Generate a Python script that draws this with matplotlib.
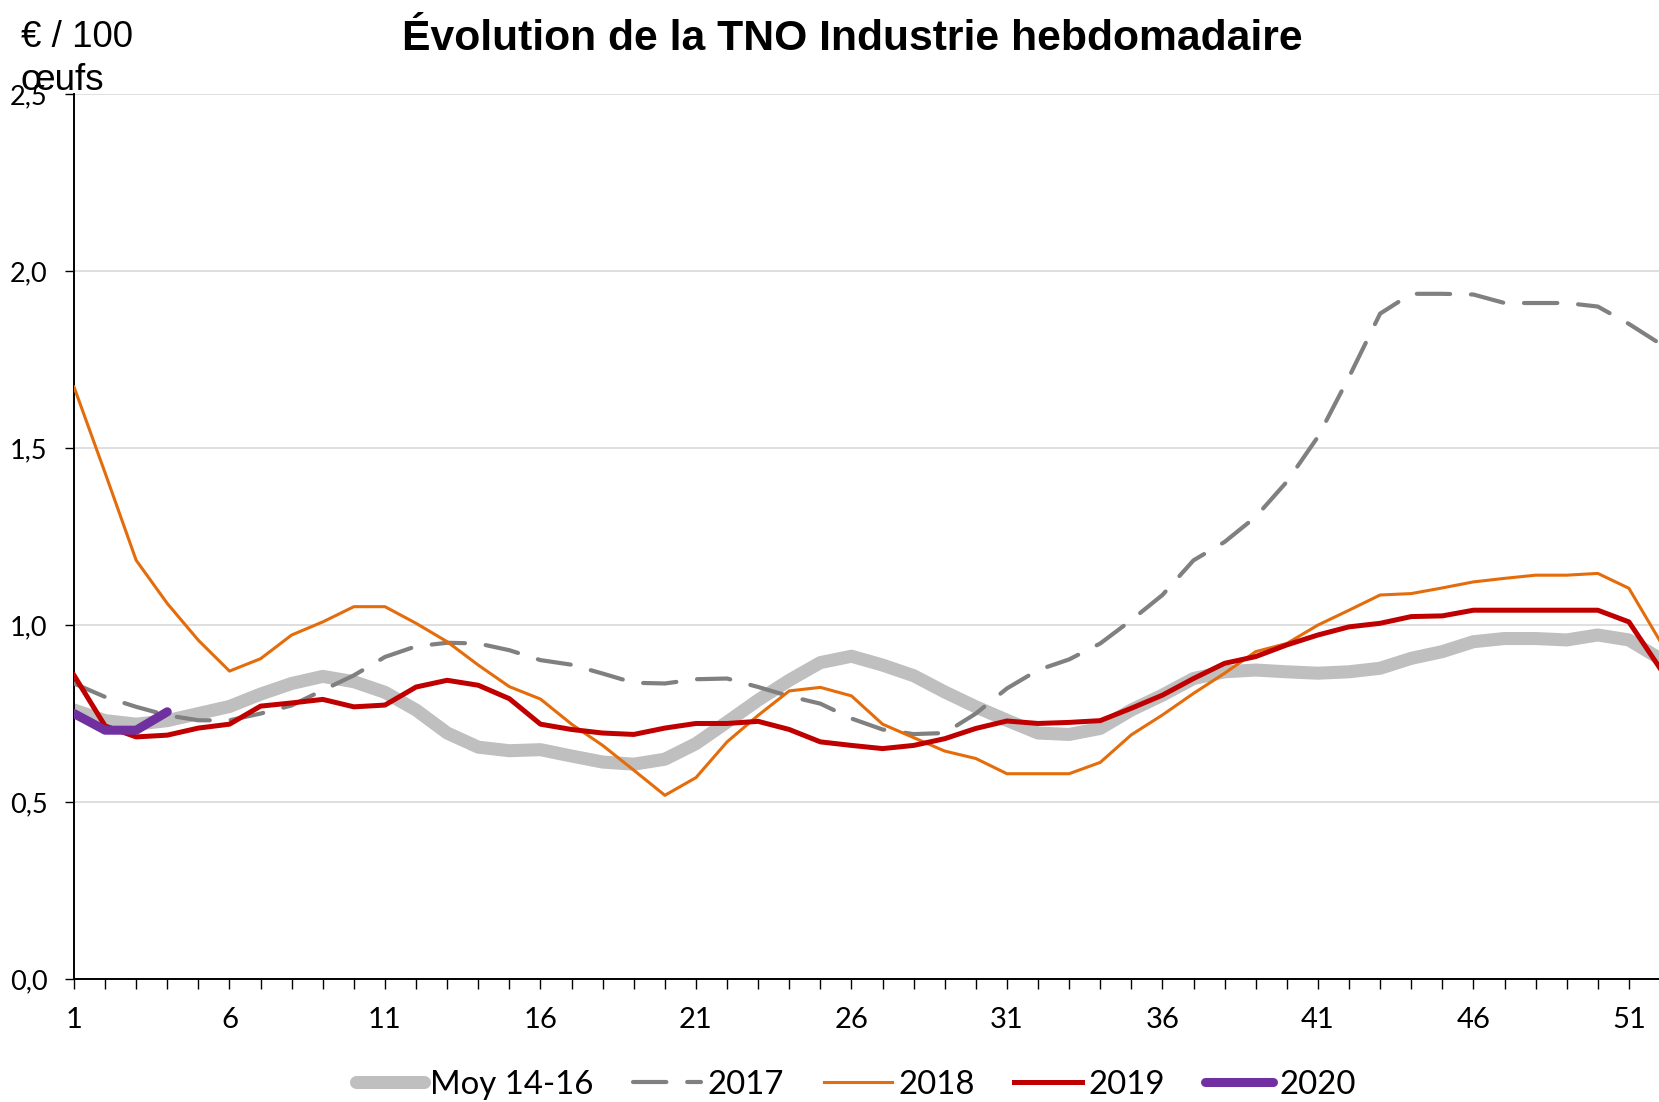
import matplotlib
matplotlib.use("Agg")
import matplotlib.pyplot as plt

weeks = list(range(1, 53))

moy_14_16 = [0.76, 0.73, 0.72, 0.73, 0.75, 0.77, 0.805, 0.835, 0.855, 0.84,
             0.81, 0.76, 0.695, 0.655, 0.645, 0.648, 0.63, 0.613, 0.607, 0.621,
             0.665, 0.726, 0.788, 0.844, 0.894, 0.912, 0.887, 0.857, 0.811, 0.769,
             0.731, 0.695, 0.691, 0.708, 0.76, 0.802, 0.849, 0.868, 0.873, 0.868,
             0.864, 0.868, 0.878, 0.906, 0.925, 0.953, 0.962, 0.962, 0.958, 0.972,
             0.958, 0.905]

y2017 = [0.835, 0.797, 0.769, 0.745, 0.731, 0.731, 0.75, 0.773, 0.816, 0.858,
         0.91, 0.94, 0.95, 0.948, 0.929, 0.901, 0.888, 0.863, 0.837, 0.835,
         0.847, 0.849, 0.825, 0.799, 0.778, 0.736, 0.705, 0.692, 0.695, 0.75,
         0.821, 0.873, 0.903, 0.948, 1.014, 1.085, 1.183, 1.235, 1.306, 1.405,
         1.532, 1.701, 1.88, 1.936, 1.936, 1.934, 1.91, 1.91, 1.91, 1.90,
         1.851, 1.795]

y2018 = [1.673, 1.43, 1.183, 1.061, 0.957, 0.870, 0.905, 0.972, 1.009, 1.052,
         1.052, 1.005, 0.953, 0.887, 0.826, 0.791, 0.72, 0.66, 0.59, 0.519,
         0.569, 0.67, 0.745, 0.814, 0.824, 0.80, 0.72, 0.682, 0.644, 0.623,
         0.58, 0.58, 0.58, 0.612, 0.69, 0.746, 0.807, 0.864, 0.925, 0.948,
         1.0, 1.042, 1.085, 1.089, 1.105, 1.122, 1.132, 1.141, 1.141, 1.146,
         1.104, 0.955]

y2019 = [0.858, 0.715, 0.684, 0.689, 0.709, 0.72, 0.771, 0.78, 0.79, 0.769,
         0.774, 0.825, 0.844, 0.83, 0.792, 0.72, 0.705, 0.695, 0.691, 0.709,
         0.722, 0.722, 0.728, 0.705, 0.67, 0.66, 0.651, 0.66, 0.679, 0.708,
         0.729, 0.722, 0.725, 0.73, 0.765, 0.802, 0.849, 0.892, 0.911, 0.944,
         0.972, 0.995, 1.005, 1.024, 1.026, 1.042, 1.042, 1.042, 1.042, 1.042,
         1.009, 0.878]

weeks_2020 = [1, 2, 3, 4]
y2020 = [0.75, 0.703, 0.703, 0.755]

y_ticks = [0.0, 0.5, 1.0, 1.5, 2.0, 2.5]
y_tick_labels = ["0,0", "0,5", "1,0", "1,5", "2,0", "2,5"]
x_label_weeks = [1, 6, 11, 16, 21, 26, 31, 36, 41, 46, 51]

title = "Évolution de la TNO Industrie hebdomadaire"
unit_line1 = "€ / 100"
unit_line2 = "œufs"

W, H = 1659, 1102
fig = plt.figure(figsize=(W / 100, H / 100), dpi=100)
fig.patch.set_facecolor("white")

ax_left = 74 / W
ax_right = 1660 / W
ax_bottom = (H - 979) / H
ax_top = (H - 94.2) / H
ax = fig.add_axes([ax_left, ax_bottom, ax_right - ax_left, ax_top - ax_bottom])

tick_font = "Lato"

ax.plot(weeks, moy_14_16, color="#bfbfbf", lw=9.4, solid_capstyle="round",
        solid_joinstyle="round", label="Moy 14-16", zorder=2)
l17, = ax.plot(weeks, y2017, color="#808080", lw=3.0, label="2017", zorder=3,
               dash_capstyle="round", dash_joinstyle="round")
l17.set_dashes([8.0, 5.0])
ax.plot(weeks, y2018, color="#e46c0a", lw=2.2, label="2018", zorder=4,
        solid_joinstyle="round")
ax.plot(weeks, y2019, color="#c00000", lw=3.6, label="2019", zorder=5,
        solid_joinstyle="round")
ax.plot(weeks_2020, y2020, color="#7030a0", lw=6.5, solid_capstyle="round",
        solid_joinstyle="round", label="2020", zorder=6)

ax.set_xlim(1, 52)
ax.set_ylim(0, 2.5)

ax.set_yticks(y_ticks)
ax.set_yticklabels(y_tick_labels, fontfamily=tick_font, fontsize=19.5)
ax.set_xticks(weeks)
ax.set_xticklabels([str(w) if w in x_label_weeks else "" for w in weeks],
                   fontfamily=tick_font, fontsize=21)

ax.yaxis.grid(True, color="#d9d9d9", lw=1.2, zorder=0)
ax.set_axisbelow(True)

for s in ("top", "right"):
    ax.spines[s].set_visible(False)
for s in ("left", "bottom"):
    ax.spines[s].set_color("black")
    ax.spines[s].set_linewidth(1.4)

ax.tick_params(axis="y", direction="out", length=6.5, width=1.0, pad=12.5,
               colors="black")
ax.tick_params(axis="x", direction="out", length=7, width=1.0, pad=13,
               colors="black")

fig.text(852 / W, (H - 50) / H, title, ha="center", va="baseline",
         fontfamily="Liberation Sans", fontweight="bold", fontsize=30.7)
fig.text(21 / W, (H - 46.7) / H, unit_line1, ha="left", va="baseline",
         fontfamily="Liberation Sans", fontsize=26.5)
fig.text(21 / W, (H - 90.5) / H, unit_line2, ha="left", va="baseline",
         fontfamily="Liberation Sans", fontsize=26.5)

leg = fig.legend(loc="center", bbox_to_anchor=(856 / W, (H - 1085) / H),
                 ncol=5, frameon=False, handlelength=2.05, handletextpad=0.2,
                 columnspacing=1.2, prop={"family": tick_font, "size": 23.8},
                 borderaxespad=0, borderpad=0)

fig.savefig("out.png", dpi=100, facecolor="white")
